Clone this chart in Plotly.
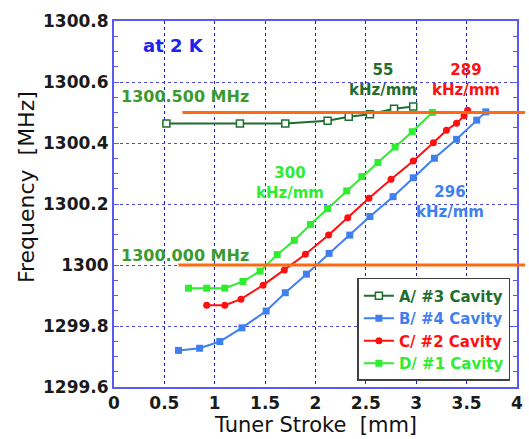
import plotly.graph_objects as go

# ---- data ----
A_x = [0.52, 1.25, 1.70, 2.12, 2.33, 2.54, 2.78, 2.97]
A_y = [1300.464, 1300.464, 1300.464, 1300.473, 1300.486, 1300.494, 1300.512, 1300.520]

B_x = [0.64, 0.85, 1.05, 1.27, 1.51, 1.70, 1.91, 2.135, 2.34, 2.54, 2.77, 2.97, 3.18, 3.40, 3.60, 3.69]
B_y = [1299.720, 1299.727, 1299.749, 1299.794, 1299.849, 1299.909, 1299.970, 1300.038,
       1300.098, 1300.159, 1300.224, 1300.286, 1300.350, 1300.412, 1300.475, 1300.502]

C_x = [0.92, 1.10, 1.26, 1.48, 1.69, 1.90, 2.13, 2.32, 2.53, 2.75, 2.97, 3.17, 3.30, 3.40, 3.475, 3.51]
C_y = [1299.868, 1299.868, 1299.888, 1299.934, 1299.984, 1300.035, 1300.098, 1300.155,
       1300.219, 1300.281, 1300.341, 1300.401, 1300.442, 1300.465, 1300.489, 1300.507]

D_x = [0.74, 0.92, 1.10, 1.28, 1.45, 1.62, 1.79, 1.95, 2.12, 2.31, 2.46, 2.62, 2.79, 2.96, 3.16]
D_y = [1299.924, 1299.924, 1299.924, 1299.946, 1299.980, 1300.034, 1300.081, 1300.133,
       1300.185, 1300.243, 1300.290, 1300.336, 1300.387, 1300.437, 1300.500]

series_names = ["A/ #3 Cavity", "B/ #4 Cavity", "C/ #2 Cavity", "D/ #1 Cavity"]

ref_freqs = [1300.5, 1300.0]
ref_start = [0.68, 0.64]
ref_labels = ["1300.500 MHz", "1300.000 MHz"]

slope_labels = ["55", "289", "300", "296"]

x_tickvals = [0, 0.5, 1, 1.5, 2, 2.5, 3, 3.5, 4]
x_ticktext = ["0", "0.5", "1", "1.5", "2", "2.5", "3", "3.5", "4"]
y_tickvals = [1299.6, 1299.8, 1300.0, 1300.2, 1300.4, 1300.6, 1300.8]
y_ticktext = ["1299.6", "1299.8", "1300", "1300.2", "1300.4", "1300.6", "1300.8"]

X_RANGE = [0, 4]
Y_RANGE = [1299.6, 1300.8]

# ---- styles ----
cA, cB, cC, cD = "#1f6e2e", "#3f7ff0", "#ff1010", "#2eec2e"
ORANGE = "#ff6a10"
LBL_GREEN = "#3a9a30"
FONT = "DejaVu Sans"

fig = go.Figure()

def lg(name, color):
    return f"<span style='color:{color}'><b>{name}</b></span>"

fig.add_trace(go.Scatter(x=A_x, y=A_y, mode="lines+markers", name=lg(series_names[0], cA),
                         line=dict(color=cA, width=2),
                         marker=dict(symbol="square", size=7, color="white",
                                     line=dict(color=cA, width=1.5))))
fig.add_trace(go.Scatter(x=B_x, y=B_y, mode="lines+markers", name=lg(series_names[1], cB),
                         line=dict(color=cB, width=2),
                         marker=dict(symbol="square", size=7, color=cB)))
fig.add_trace(go.Scatter(x=C_x, y=C_y, mode="lines+markers", name=lg(series_names[2], cC),
                         line=dict(color=cC, width=2),
                         marker=dict(symbol="circle", size=7, color=cC)))
fig.add_trace(go.Scatter(x=D_x, y=D_y, mode="lines+markers", name=lg(series_names[3], cD),
                         line=dict(color=cD, width=2),
                         marker=dict(symbol="square", size=7, color=cD)))

# reference lines (extend past the right frame like the original)
for f, s in zip(ref_freqs, ref_start):
    fig.add_shape(type="line", xref="paper", yref="y",
                  x0=(s - X_RANGE[0]) / (X_RANGE[1] - X_RANGE[0]), x1=1.02, y0=f, y1=f,
                  line=dict(color=ORANGE, width=3), layer="above")

ann = []
ann.append(dict(x=0.587, y=1300.72, text="<b>at 2 K</b>", showarrow=False,
                font=dict(family=FONT, size=18, color="#2222ee")))
ann.append(dict(x=0.704, y=1300.553, text=f"<b>{ref_labels[0]}</b>", showarrow=False,
                font=dict(family=FONT, size=16, color=LBL_GREEN)))
ann.append(dict(x=0.704, y=1300.03, text=f"<b>{ref_labels[1]}</b>", showarrow=False,
                font=dict(family=FONT, size=16, color=LBL_GREEN)))
slope_pos = [(2.67, 1300.607, cA), (3.49, 1300.607, cC), (1.75, 1300.268, cD), (3.33, 1300.206, cB)]
for t, (px, py, c) in zip(slope_labels, slope_pos):
    ann.append(dict(x=px, y=py, text=f"<b>{t}<br>kHz/mm</b>", showarrow=False,
                    font=dict(family=FONT, size=15, color=c)))
# axis titles
ann.append(dict(xref="paper", yref="paper", x=0.5, y=-0.105, yanchor="middle",
                text="Tuner Stroke  [mm]", showarrow=False,
                font=dict(family=FONT, size=21, color="#111111")))
ann.append(dict(xref="paper", yref="paper", x=-0.217, y=0.5 + 0.045, xanchor="center",
                text="Frequency  [MHz]", textangle=-90, showarrow=False,
                font=dict(family=FONT, size=22, color="#111111")))

fig.update_layout(
    width=529, height=439,
    margin=dict(l=114, r=6, t=21, b=52),
    paper_bgcolor="white", plot_bgcolor="white",
    annotations=ann,
    showlegend=True,
    legend=dict(x=0.604, y=0.298, xanchor="left", yanchor="top",
                bgcolor="white", bordercolor="#404040", borderwidth=1.5,
                font=dict(family=FONT, size=15, color="#222222"),
                tracegroupgap=0),
)

fig.update_xaxes(range=X_RANGE, tickvals=x_tickvals, ticktext=x_ticktext,
                 showgrid=True, gridcolor="#1a1ad0", griddash="dot", gridwidth=1,
                 showline=True, linecolor="#5a5af0", linewidth=2, mirror=True,
                 ticks="", zeroline=False,
                 tickfont=dict(family=FONT, size=17, color="#1a1a1a", weight="bold"))
fig.update_yaxes(range=Y_RANGE, tickvals=y_tickvals, ticktext=y_ticktext,
                 showgrid=True, gridcolor="#4a4ae0", griddash="dot", gridwidth=1,
                 showline=True, linecolor="#5a5af0", linewidth=2, mirror="ticks",
                 ticks="inside", ticklen=5, tickcolor="#5a5af0", zeroline=False,
                 minor=dict(dtick=0.05, ticks="inside", ticklen=4, tickcolor="#5a5af0", showgrid=False),
                 tickfont=dict(family=FONT, size=17, color="#1a1a1a", weight="bold"))

fig.write_html("out.html")
